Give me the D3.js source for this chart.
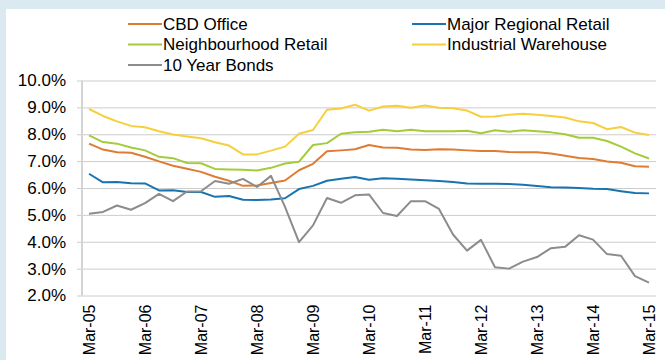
<!DOCTYPE html>
<html>
<head>
<meta charset="utf-8">
<script src="https://cdn.jsdelivr.net/npm/d3@7"></script>
<style>
  html, body { margin: 0; padding: 0; background: #dbe9f1; }
  svg { display: block; }
  text { font-family: "Liberation Sans", Arial, sans-serif; fill: #000; }
</style>
</head>
<body>
<svg id="chart" width="665" height="360"></svg>
<script>
// Quarterly observations, Mar-05 to Mar-15
const quarters = [
  "Mar-05","Jun-05","Sep-05","Dec-05","Mar-06","Jun-06","Sep-06","Dec-06",
  "Mar-07","Jun-07","Sep-07","Dec-07","Mar-08","Jun-08","Sep-08","Dec-08",
  "Mar-09","Jun-09","Sep-09","Dec-09","Mar-10","Jun-10","Sep-10","Dec-10",
  "Mar-11","Jun-11","Sep-11","Dec-11","Mar-12","Jun-12","Sep-12","Dec-12",
  "Mar-13","Jun-13","Sep-13","Dec-13","Mar-14","Jun-14","Sep-14","Dec-14",
  "Mar-15"
];
const tickLabels = ["Mar-05","Mar-06","Mar-07","Mar-08","Mar-09","Mar-10","Mar-11","Mar-12","Mar-13","Mar-14","Mar-15"];
const yTicks = [2, 3, 4, 5, 6, 7, 8, 9, 10];

// Yields (%)
const cbdOffice = [7.65,7.43,7.33,7.31,7.16,6.99,6.83,6.72,6.60,6.42,6.27,6.08,6.09,6.19,6.28,6.66,6.90,7.37,7.40,7.44,7.60,7.51,7.50,7.43,7.41,7.44,7.43,7.40,7.38,7.38,7.34,7.33,7.33,7.28,7.20,7.12,7.08,6.99,6.94,6.81,6.79];
const majorRegionalRetail = [6.53,6.21,6.22,6.18,6.17,5.91,5.92,5.85,5.85,5.67,5.70,5.56,5.55,5.57,5.62,5.96,6.08,6.27,6.34,6.41,6.31,6.36,6.34,6.32,6.29,6.26,6.22,6.17,6.16,6.16,6.15,6.12,6.07,6.03,6.02,6.00,5.97,5.96,5.88,5.81,5.80];
const neighbourhoodRetail = [7.96,7.71,7.65,7.51,7.40,7.16,7.11,6.93,6.92,6.71,6.69,6.68,6.65,6.75,6.91,6.98,7.60,7.67,8.02,8.07,8.09,8.17,8.11,8.17,8.11,8.11,8.11,8.13,8.04,8.15,8.09,8.15,8.11,8.07,8.00,7.87,7.87,7.75,7.54,7.29,7.10];
const industrialWarehouse = [8.94,8.68,8.48,8.31,8.26,8.11,7.99,7.92,7.85,7.70,7.58,7.25,7.25,7.39,7.54,8.02,8.16,8.91,8.96,9.10,8.88,9.03,9.06,8.99,9.07,8.99,8.97,8.88,8.65,8.66,8.73,8.76,8.73,8.68,8.62,8.48,8.42,8.19,8.27,8.06,7.97];
const tenYearBonds = [5.04,5.11,5.35,5.19,5.44,5.78,5.51,5.87,5.88,6.26,6.16,6.34,6.04,6.45,5.30,3.99,4.61,5.63,5.45,5.73,5.76,5.07,4.96,5.51,5.51,5.22,4.27,3.67,4.07,3.05,3.00,3.26,3.43,3.76,3.81,4.24,4.08,3.54,3.48,2.72,2.48];

const seriesNames = ["CBD Office","Major Regional Retail","Neighbourhood Retail","Industrial Warehouse","10 Year Bonds"];
const seriesColors = ["#e07b32","#1874b0","#a4cc3a","#f6cf3c","#8c8c8c"];
const seriesValues = [cbdOffice, majorRegionalRetail, neighbourhoodRetail, industrialWarehouse, tenYearBonds];

const svg = d3.select("#chart");

// white panel inside the light blue frame
svg.append("rect").attr("x", 6).attr("y", 9).attr("width", 659).attr("height", 351).attr("fill", "#ffffff");

const x = d3.scaleBand().domain(quarters).range([82, 656]);
const y = d3.scaleLinear().domain([2, 10]).range([295.5, 80.5]);
const cx = q => x(q) + x.bandwidth() / 2;

// horizontal gridlines
const yAxis = d3.axisLeft(y).tickValues(yTicks).tickSize(-(656 - 77)).tickSizeOuter(0)
  .tickFormat(d => d.toFixed(1) + "%").tickPadding(11);
const gy = svg.append("g").attr("transform", "translate(77,0)").call(yAxis);
gy.select(".domain").remove();
gy.selectAll(".tick line").attr("stroke", "#cccccc").attr("stroke-width", 1);
gy.selectAll(".tick text").attr("font-size", 17).attr("font-family", "Liberation Sans, Arial, sans-serif").attr("fill", "#000");

// vertical axis line
svg.append("line").attr("x1", 82).attr("x2", 82).attr("y1", y(10)).attr("y2", y(2))
  .attr("stroke", "#d4d4d4").attr("stroke-width", 2);

// category axis with rotated labels
const xAxis = d3.axisBottom(x).tickValues(tickLabels).tickSize(0).tickPadding(0);
const gx = svg.append("g").attr("transform", `translate(0,${y(2)})`).call(xAxis);
gx.select(".domain").remove();
gx.selectAll(".tick text")
  .attr("font-size", 16).attr("font-family", "Liberation Sans, Arial, sans-serif").attr("fill", "#000")
  .attr("text-anchor", "end")
  .attr("transform", "translate(0,9) rotate(-90)")
  .attr("x", 0).attr("y", 0).attr("dy", "0.35em");

// series lines
const line = d3.line().x((d, i) => cx(quarters[i])).y(d => y(d));
const plot = svg.append("g");
[3, 2, 0, 1, 4].forEach(k => {
  plot.append("path").datum(seriesValues[k])
    .attr("d", line).attr("fill", "none")
    .attr("stroke", seriesColors[k]).attr("stroke-width", 2)
    .attr("stroke-linejoin", "round");
});

// legend, two columns
const legendPos = [[128, 24], [412, 24], [128, 44.5], [412, 44.5], [128, 65]];
const lg = svg.append("g");
seriesNames.forEach((name, k) => {
  const [lx, ly] = legendPos[k];
  lg.append("line").attr("x1", lx).attr("x2", lx + 34).attr("y1", ly).attr("y2", ly)
    .attr("stroke", seriesColors[k]).attr("stroke-width", 2);
  lg.append("text").attr("x", lx + 35).attr("y", ly).attr("dy", "0.35em")
    .attr("font-size", 17).text(name);
});
</script>
</body>
</html>
